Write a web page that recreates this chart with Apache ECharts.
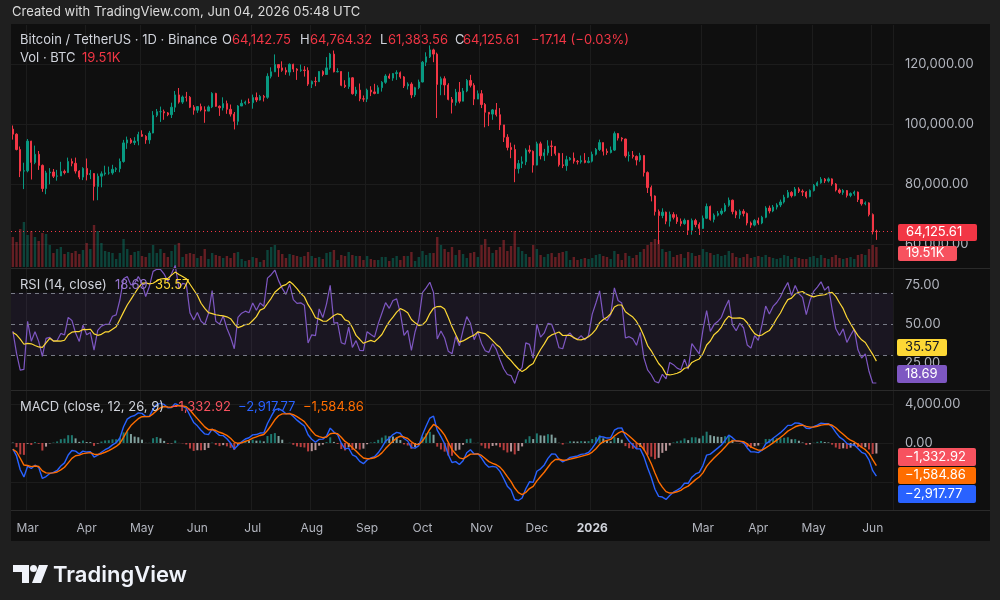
<!DOCTYPE html>
<html lang="en">
<head>
    <meta charset="UTF-8">
    <title>BTCUSDT 1D</title>
    <script src="https://cdn.jsdelivr.net/npm/echarts@6.0.0/dist/echarts.min.js"></script>
    <style>
        html, body { margin: 0; padding: 0; background: #1f1f1f; }
        #main { width: 1000px; height: 600px; }
    </style>
</head>
<body>
<div id="main"></div>
<script type="text/javascript">
// two-day bars from 2025-02-21, prices in thousand USDT, volume in K BTC
var startDate = '2025-02-21';
// closes before the window, only used to warm up RSI / MACD
var preCloses = [94.2, 93.4, 96.9, 102.1, 95.0, 94.5, 100.5, 104.4, 102.0, 104.8, 102.6, 101.3,
    104.7, 100.6, 101.4, 96.6, 96.5, 96.5, 95.8, 96.6, 97.5, 95.8, 98.3];
var closes = [
    96.6, 91.5, 84.3, 84.4, 94.3, 87.2, 89.9, 86.2, 78.5, 83.7,
    84.0, 82.6, 82.7, 84.2, 83.8, 87.5, 86.9, 84.3, 82.3, 85.2,
    83.1, 83.5, 79.2, 82.6, 83.4, 83.7, 83.7, 84.9, 85.1, 87.5,
    93.7, 94.7, 93.8, 94.3, 96.5, 95.9, 94.7, 97.0, 102.9, 104.1,
    104.1, 103.7, 103.1, 105.6, 109.7, 107.3, 109.0, 108.9, 105.6, 104.6,
    105.8, 104.7, 104.3, 105.7, 110.2, 105.9, 105.4, 106.8, 104.9, 103.3,
    100.9, 106.0, 106.9, 107.3, 107.1, 108.8, 108.0, 109.2, 108.9, 115.9,
    117.4, 119.8, 118.7, 117.9, 117.3, 119.9, 118.3, 117.9, 118.0, 117.8,
    113.3, 114.2, 114.1, 117.5, 116.5, 118.7, 123.3, 117.4, 117.5, 112.9,
    112.5, 115.4, 110.1, 111.3, 108.4, 108.3, 111.3, 110.7, 110.2, 112.1,
    113.9, 116.0, 115.3, 116.8, 117.1, 115.7, 112.7, 113.3, 109.7, 112.1,
    114.0, 120.6, 122.4, 124.7, 123.3, 113.2, 115.1, 113.0, 108.2, 107.2,
    110.6, 107.6, 111.0, 114.5, 112.9, 108.3, 110.1, 106.5, 103.9, 103.3,
    104.7, 103.1, 99.7, 95.6, 92.2, 91.5, 85.1, 86.8, 87.4, 91.3,
    90.9, 86.3, 93.4, 89.4, 90.4, 92.7, 92.5, 90.2, 86.4, 86.1,
    88.1, 88.6, 87.6, 87.4, 87.8, 87.2, 87.6, 89.9, 91.5, 93.8,
    90.9, 90.5, 91.3, 96.8, 95.3, 95.0, 89.4, 89.6, 89.2, 88.0,
    89.5, 83.8, 78.8, 76.0, 70.8, 69.5, 70.6, 67.6, 69.8, 68.9,
    67.5, 66.8, 67.9, 64.6, 67.8, 66.5, 65.2, 68.6, 72.5, 68.2,
    69.6, 70.2, 71.0, 72.9, 74.6, 70.8, 69.7, 70.9, 70.2, 67.0,
    66.3, 67.8, 67.0, 68.9, 72.0, 71.0, 72.3, 73.0, 74.0, 75.6,
    77.2, 76.1, 78.3, 77.6, 77.3, 75.8, 77.8, 79.5, 80.4, 81.6,
    81.0, 81.7, 80.0, 78.0, 77.2, 77.8, 76.2, 76.8, 77.3, 74.8,
    73.4, 73.7, 69.8, 64.143, 64.126
];
var highs = [
    99.5, 96.9, 92.5, 87.1, 95.0, 94.4, 92.8, 91.0, 86.5, 84.4,
    85.3, 85.0, 84.7, 87.4, 84.8, 88.8, 88.5, 88.8, 84.6, 85.6,
    88.5, 84.7, 83.6, 83.5, 84.2, 86.1, 85.8, 86.4, 85.6, 88.5,
    94.7, 95.8, 95.3, 95.6, 97.4, 97.9, 96.3, 97.7, 104.3, 105.0,
    105.8, 104.8, 104.0, 107.1, 111.0, 112.0, 109.5, 110.7, 109.3, 106.3,
    105.9, 106.8, 105.9, 106.2, 110.6, 110.4, 106.2, 108.9, 107.8, 106.5,
    104.0, 106.3, 108.1, 107.8, 108.5, 109.8, 110.5, 109.7, 109.7, 116.9,
    118.9, 123.2, 119.9, 120.9, 118.9, 120.2, 120.1, 118.6, 119.8, 119.3,
    118.9, 114.5, 115.7, 117.6, 117.9, 122.3, 123.7, 124.5, 118.6, 117.6,
    114.6, 117.4, 115.6, 112.4, 113.5, 109.5, 111.8, 112.6, 113.4, 112.9,
    114.3, 116.6, 116.8, 117.0, 117.9, 117.5, 116.0, 113.9, 113.9, 112.4,
    114.8, 121.0, 123.9, 126.2, 125.1, 123.8, 115.8, 115.9, 113.6, 109.0,
    111.7, 114.0, 112.0, 115.0, 116.4, 113.6, 111.2, 111.3, 107.0, 104.0,
    105.0, 107.0, 105.3, 99.0, 96.6, 93.8, 93.1, 88.0, 89.2, 91.9,
    92.9, 91.2, 94.1, 94.1, 91.7, 94.6, 94.5, 92.7, 90.4, 90.3,
    89.4, 89.0, 90.5, 88.0, 89.5, 90.3, 89.0, 90.8, 92.0, 94.8,
    93.8, 91.8, 92.5, 97.5, 97.0, 95.6, 95.1, 90.8, 91.0, 89.5,
    90.4, 89.2, 84.2, 79.5, 76.2, 71.5, 71.9, 70.8, 70.8, 70.6,
    69.9, 68.5, 68.5, 68.0, 68.5, 68.4, 67.2, 69.5, 73.5, 72.8,
    70.2, 71.0, 71.9, 73.6, 75.5, 74.8, 71.2, 71.5, 71.6, 70.5,
    67.5, 68.3, 68.8, 69.4, 72.6, 72.8, 73.0, 73.6, 74.8, 76.4,
    78.0, 77.6, 79.0, 78.9, 78.2, 77.6, 78.2, 80.0, 80.9, 82.3,
    82.0, 82.2, 81.9, 80.3, 78.5, 78.3, 78.0, 77.2, 77.8, 77.5,
    74.9, 74.2, 73.9, 70.2, 64.764
];
var lows = [
    94.8, 91.2, 82.3, 78.3, 83.9, 81.5, 86.6, 84.7, 77.4, 76.6,
    79.9, 82.0, 81.1, 82.7, 83.2, 83.7, 85.9, 83.5, 81.6, 81.3,
    81.2, 81.6, 74.5, 74.6, 78.9, 82.8, 83.1, 83.1, 84.0, 83.9,
    87.1, 91.7, 93.4, 93.0, 92.9, 95.7, 93.4, 93.4, 96.9, 102.3,
    100.7, 101.4, 102.6, 102.0, 104.0, 106.8, 106.7, 107.5, 105.3, 103.1,
    103.7, 104.2, 100.4, 104.5, 105.3, 105.7, 102.7, 104.5, 103.4, 102.5,
    98.2, 99.6, 106.4, 106.4, 106.8, 105.1, 107.3, 107.8, 107.5, 108.4,
    115.2, 117.3, 115.7, 117.4, 116.4, 116.1, 117.3, 114.7, 117.4, 115.8,
    112.7, 112.0, 112.6, 114.3, 115.9, 116.6, 118.1, 117.2, 117.2, 112.6,
    112.0, 111.7, 109.8, 109.3, 107.6, 107.4, 107.3, 109.3, 109.9, 110.0,
    110.8, 113.4, 115.0, 114.4, 114.7, 115.1, 112.0, 111.5, 108.6, 109.0,
    111.6, 113.9, 119.3, 122.0, 120.6, 102.0, 109.6, 109.6, 107.9, 103.5,
    106.1, 106.9, 107.6, 110.6, 112.2, 106.3, 108.6, 105.3, 98.9, 99.3,
    101.4, 102.5, 98.0, 94.0, 91.2, 88.6, 80.6, 83.5, 85.3, 86.3,
    90.2, 83.8, 86.2, 88.2, 87.7, 89.5, 89.3, 89.5, 85.8, 85.3,
    84.4, 87.8, 86.8, 86.5, 86.8, 86.9, 86.9, 87.2, 89.5, 91.0,
    89.5, 89.7, 90.2, 91.0, 94.5, 94.2, 88.8, 87.5, 88.5, 86.2,
    87.4, 82.5, 77.0, 74.2, 69.5, 60.0, 68.6, 66.6, 65.8, 68.2,
    66.7, 65.9, 66.4, 63.0, 63.1, 65.6, 63.0, 65.0, 68.3, 67.8,
    67.2, 69.2, 69.6, 70.6, 72.4, 69.9, 68.6, 68.4, 69.2, 66.2,
    65.4, 65.9, 66.4, 66.6, 68.6, 70.2, 70.6, 71.5, 72.3, 73.5,
    75.3, 75.5, 75.9, 77.0, 76.0, 75.2, 75.6, 77.5, 79.2, 80.1,
    80.3, 80.5, 79.4, 77.5, 76.7, 76.4, 75.5, 75.6, 76.1, 74.0,
    72.8, 72.9, 69.2, 63.2, 61.384
];
var volumes = [
    30, 25, 38, 45, 32, 36, 30, 26, 34, 33,
    22, 14, 18, 20, 13, 15, 14, 16, 13, 17,
    24, 18, 42, 36, 24, 16, 15, 14, 8, 14,
    28, 18, 12, 15, 16, 11, 10, 14, 22, 14,
    18, 14, 10, 16, 22, 24, 10, 13, 14, 13,
    9, 11, 18, 8, 14, 12, 11, 9, 11, 9,
    14, 15, 8, 6, 7, 10, 9, 5, 7, 17,
    20, 22, 17, 13, 9, 13, 12, 11, 10, 11,
    15, 11, 9, 10, 8, 14, 15, 17, 7, 12,
    11, 15, 12, 11, 11, 7, 11, 8, 7, 7,
    10, 10, 6, 9, 11, 7, 11, 11, 15, 6,
    10, 16, 12, 14, 14, 30, 22, 18, 15, 20,
    12, 17, 13, 9, 14, 15, 10, 22, 28, 20,
    14, 17, 20, 27, 16, 21, 36, 20, 16, 13,
    10, 22, 18, 12, 10, 13, 14, 10, 14, 15,
    16, 7, 10, 7, 8, 9, 8, 9, 12, 13,
    11, 10, 8, 16, 13, 7, 14, 11, 9, 12,
    15, 18, 22, 25, 28, 27, 18, 15, 16, 10,
    12, 13, 9, 15, 14, 11, 12, 18, 15, 14,
    12, 13, 11, 12, 16, 14, 10, 9, 10, 13,
    9, 10, 11, 10, 12, 10, 9, 8, 9, 12,
    11, 8, 10, 9, 8, 8, 10, 11, 9, 12,
    9, 8, 10, 12, 9, 8, 9, 10, 8, 12,
    13, 12, 18, 22, 20
];
// time axis labels (TradingView skipped Feb 2026)
var monthTicks = ['2025-03', '2025-04', '2025-05', '2025-06', '2025-07', '2025-08', '2025-09', '2025-10',
    '2025-11', '2025-12', '2026-01', '2026-03', '2026-04', '2026-05', '2026-06'];
var monthText = ['Mar', 'Apr', 'May', 'Jun', 'Jul', 'Aug', 'Sep', 'Oct', 'Nov', 'Dec', '2026', 'Mar', 'Apr', 'May', 'Jun'];
var priceTicks = [60000, 80000, 100000, 120000];
var macdTicks = [4000, 0];

// indicator lengths in two-day bars (14 / 12-26-9 days)
var rsiLen = 7, rsiMaLen = 7, fastLen = 6, slowLen = 13, sigLen = 4.5;
var padBars = 4; // empty space right of the last bar

var GREEN = '#089981', RED = '#f23645', GRID = '#1c1c1c', AXIS_TXT = '#b2b5be';
var FONT = 'Inter';

function addDays(s, n) {
    var d = new Date(s + 'T00:00:00Z');
    d.setUTCDate(d.getUTCDate() + n);
    return d.toISOString().slice(0, 10);
}
function fmt(v, dec) {
    return v.toLocaleString('en-US', {minimumFractionDigits: dec, maximumFractionDigits: dec});
}
function ema(src, n) {
    var k = 2 / (n + 1), out = [src[0]];
    for (var i = 1; i < src.length; i++) out.push(src[i] * k + out[i - 1] * (1 - k));
    return out;
}
function sma(src, n) {
    var out = [];
    for (var i = 0; i < src.length; i++) {
        var s = 0, c = 0;
        for (var j = Math.max(0, i - n + 1); j <= i; j++) { s += src[j]; c++; }
        out.push(s / c);
    }
    return out;
}
function rsi(src, n) {
    var out = [50], up = 0, dn = 0;
    for (var i = 1; i < src.length; i++) {
        var ch = src[i] - src[i - 1];
        var a = i < n ? 1 / i : 1 / n;
        up += a * (Math.max(ch, 0) - up);
        dn += a * (Math.max(-ch, 0) - dn);
        out.push(dn === 0 ? 100 : 100 - 100 / (1 + up / dn));
    }
    return out;
}

var dates = [];
for (var i = 0; i < closes.length + padBars; i++) dates.push(addDays(startDate, i * 2));

var candles = [], volData = [];
for (i = 0; i < closes.length; i++) {
    var o = (i ? closes[i - 1] : preCloses[preCloses.length - 1]) * 1000;
    var c = closes[i] * 1000;
    var h = Math.max(highs[i] * 1000, o, c), l = Math.min(lows[i] * 1000, o, c);
    candles.push([o, c, l, h]);
    volData.push({value: volumes[i], itemStyle: {color: c >= o ? 'rgba(8,153,129,0.38)' : 'rgba(242,54,69,0.38)'}});
}

// indicators on the whole close history, then cut to the window
var allCloses = preCloses.concat(closes).map(function (v) { return v * 1000; });
var cut = preCloses.length;
var rsiAll = rsi(allCloses, rsiLen);
var rsiLine = rsiAll.slice(cut);
var rsiMa = sma(rsiAll, rsiMaLen).slice(cut);
var fastE = ema(allCloses, fastLen), slowE = ema(allCloses, slowLen);
var macdAll = fastE.map(function (v, k) { return v - slowE[k]; });
var sigAll = ema(macdAll, sigLen);
var macdLine = macdAll.slice(cut), sigLine = sigAll.slice(cut);
var histData = [];
for (i = 0; i < macdLine.length; i++) {
    var hv = macdLine[i] - sigLine[i];
    var pv = macdAll[cut + i - 1] - sigAll[cut + i - 1];
    var col = hv >= 0 ? (hv >= pv ? '#26a69a' : '#b2dfdb') : (hv < pv ? '#ff5252' : '#ffcdd2');
    histData.push({value: hv, itemStyle: {color: col, opacity: 0.7}});
}

function monthIndex(idx) {
    var key = dates[idx].slice(0, 7);
    if (idx > 0 && dates[idx - 1].slice(0, 7) === key) return -1;
    return monthTicks.indexOf(key);
}

var gridL = 11, gridR = 107;
function xAx(i, extra) {
    var ax = {
        type: 'category', gridIndex: i, data: dates, boundaryGap: true,
        axisLine: {show: false}, axisTick: {show: false},
        axisLabel: {show: false}, splitLine: {show: false}
    };
    for (var k in extra) ax[k] = extra[k];
    return ax;
}

// text / badge overlay
var g = [];
function rect(x, y, w, h, fill, r) {
    g.push({type: 'rect', z: 100, shape: {x: x, y: y, width: w, height: h, r: r || 0}, style: {fill: fill}});
}
function text(x, y, s, fill, size, weight) {
    g.push({type: 'text', z: 101, x: x, y: y, style: {text: s, fill: fill, fontSize: size || 13,
        fontFamily: FONT, fontWeight: weight || 'normal', verticalAlign: 'middle'}});
}
function line(x1, y1, x2, y2, stroke) {
    g.push({type: 'line', z: 100, shape: {x1: x1, y1: y1, x2: x2, y2: y2}, style: {stroke: stroke, lineWidth: 1}});
}
// frame round the chart panel
rect(0, 0, 1000, 24, '#1f1f1f');
rect(0, 541, 1000, 59, '#1f1f1f');
rect(0, 0, 11, 600, '#1f1f1f');
rect(990, 0, 10, 600, '#1f1f1f');
line(11, 268.5, 990, 268.5, '#2a2a2a');
line(11, 390.5, 990, 390.5, '#2a2a2a');
line(11, 510.5, 990, 510.5, '#2a2a2a');
text(12, 12, 'Created with TradingView.com, Jun 04, 2026 05:48 UTC', '#dcdcdc', 13);
// legends
var LG = '#d1d4dc';
text(20, 40, 'Bitcoin / TetherUS · 1D · Binance', LG);
text(222, 40, 'O', LG); text(232, 40, '64,142.75', RED);
text(300, 40, 'H', LG); text(310, 40, '64,764.32', RED);
text(380, 40, 'L', LG); text(388, 40, '61,383.56', RED);
text(455, 40, 'C', LG); text(463, 40, '64,125.61', RED);
text(531, 40, '\u221217.14 (\u22120.03%)', RED);
text(20, 58, 'Vol · BTC', LG); text(82, 58, '19.51K', RED);
text(20, 285, 'RSI (14, close)', LG); text(115, 285, '18.69', '#9575cd'); text(155, 285, '35.57', '#fdd835');
text(20, 407, 'MACD (close, 12, 26, 9)', LG); text(170, 407, '\u22121,332.92', '#f7525f');
text(238, 407, '\u22122,917.77', '#2962ff'); text(303, 407, '\u22121,584.86', '#ff6d00');
// last value badges on the right scales
rect(898, 224, 79, 17, RED, 2); text(906, 232.5, '64,125.61', '#ffffff');
rect(898, 246, 59, 15, '#f7525f', 2); text(906, 253.5, '19.51K', '#ffffff');
rect(897, 339, 50, 17, '#fdd835', 2); text(905, 347.5, '35.57', '#131722');
rect(897, 365, 50, 18, '#7e57c2', 2); text(905, 374, '18.69', '#ffffff');
rect(898, 448, 78, 18, '#f7525f', 2); text(905, 457, '\u22121,332.92', '#ffffff');
rect(898, 467, 78, 17, '#ff6d00', 2); text(905, 475.5, '\u22121,584.86', '#ffffff');
rect(898, 485, 78, 18, '#2962ff', 2); text(905, 494, '\u22122,917.77', '#ffffff');
// TradingView logo
g.push({type: 'polygon', z: 101, shape: {points: [[13, 565], [29, 565], [29, 583], [22, 583], [22, 572], [13, 572]]}, style: {fill: '#f0f3fa'}});
g.push({type: 'circle', z: 101, shape: {cx: 33.5, cy: 568.5, r: 3.5}, style: {fill: '#f0f3fa'}});
g.push({type: 'polygon', z: 101, shape: {points: [[39, 565], [48, 565], [41, 583], [32, 583]]}, style: {fill: '#f0f3fa'}});
text(53, 575, 'TradingView', '#f0f3fa', 22, 600);

var chart = echarts.init(document.getElementById('main'));
var option = {
    backgroundColor: '#0f0f0f',
    animation: false,
    textStyle: {fontFamily: FONT},
    grid: [
        {left: gridL, right: gridR, top: 34, height: 240},   // price 130k .. 50k
        {left: gridL, right: gridR, top: 25, height: 242},   // volume
        {left: gridL, right: gridR, top: 285, height: 117},  // rsi 75 .. 0
        {left: gridL, right: gridR, top: 404, height: 117},  // macd 4000 .. -8000
        {left: gridL, right: gridR, top: 25, height: 485}    // month lines + time labels
    ],
    xAxis: [
        xAx(0), xAx(1), xAx(2), xAx(3),
        xAx(4, {
            axisLabel: {
                show: true, margin: 12, color: AXIS_TXT, fontSize: 12,
                interval: function (idx) { return monthIndex(idx) >= 0; },
                formatter: function (v, idx) {
                    var m = monthIndex(idx);
                    if (m < 0) return '';
                    return monthText[m] === '2026' ? '{b|2026}' : monthText[m];
                },
                rich: {b: {fontWeight: 'bold', color: '#d1d4dc', fontSize: 12}}
            },
            splitLine: {
                show: true,
                interval: function (idx) { return monthIndex(idx) >= 0; },
                lineStyle: {color: GRID, width: 1}
            }
        })
    ],
    yAxis: [
        {
            gridIndex: 0, type: 'value', position: 'right', min: 50000, max: 130000, interval: 10000,
            axisLine: {show: false}, axisTick: {show: false},
            axisLabel: {margin: 12, color: AXIS_TXT, fontSize: 13, formatter: function (v) {
                return priceTicks.indexOf(v) >= 0 ? fmt(v, 2) : '';
            }},
            splitLine: {lineStyle: {color: ['rgba(0,0,0,0)', GRID]}}
        },
        {gridIndex: 1, type: 'value', min: 0, max: 242, show: false},
        {
            gridIndex: 2, type: 'value', position: 'right', min: 0, max: 75, interval: 25,
            axisLine: {show: false}, axisTick: {show: false}, splitLine: {show: false},
            axisLabel: {margin: 12, color: AXIS_TXT, fontSize: 13, formatter: function (v) {
                return v > 0 ? fmt(v, 2) : '';
            }}
        },
        {
            gridIndex: 3, type: 'value', position: 'right', min: -8000, max: 4000, interval: 4000,
            axisLine: {show: false}, axisTick: {show: false},
            axisLabel: {margin: 12, color: AXIS_TXT, fontSize: 13, formatter: function (v) {
                return macdTicks.indexOf(v) >= 0 ? fmt(v, 2) : '';
            }},
            splitLine: {lineStyle: {color: ['rgba(0,0,0,0)', GRID, GRID, GRID]}}
        },
        {gridIndex: 4, type: 'value', show: false}
    ],
    series: [
        {
            name: 'Vol', type: 'bar', xAxisIndex: 1, yAxisIndex: 1, data: volData,
            barWidth: 2.4, z: 1, silent: true
        },
        {
            name: 'BTCUSDT', type: 'candlestick', xAxisIndex: 0, yAxisIndex: 0, data: candles,
            barWidth: 1.8, z: 3,
            itemStyle: {color: GREEN, color0: RED, borderColor: GREEN, borderColor0: RED, borderWidth: 1},
            markLine: {
                silent: true, symbol: 'none', label: {show: false},
                lineStyle: {color: RED, type: [1, 3], width: 1},
                data: [{yAxis: closes[closes.length - 1] * 1000}]
            }
        },
        {
            name: 'RSI', type: 'line', xAxisIndex: 2, yAxisIndex: 2, data: rsiLine, clip: false,
            symbol: 'none', lineStyle: {color: '#7e57c2', width: 1.2}, z: 3,
            markArea: {silent: true, itemStyle: {color: 'rgba(126,87,194,0.1)'},
                data: [[{yAxis: 70}, {yAxis: 30}]]},
            markLine: {silent: true, symbol: 'none', label: {show: false},
                lineStyle: {color: '#787b86', type: [4, 4], width: 1},
                data: [{yAxis: 70}, {yAxis: 50}, {yAxis: 30}]}
        },
        {
            name: 'RSI MA', type: 'line', xAxisIndex: 2, yAxisIndex: 2, data: rsiMa, clip: false,
            symbol: 'none', lineStyle: {color: '#fdd835', width: 1.2}, z: 4
        },
        {
            name: 'Histogram', type: 'bar', xAxisIndex: 3, yAxisIndex: 3, data: histData,
            barWidth: 2, silent: true
        },
        {
            name: 'MACD', type: 'line', xAxisIndex: 3, yAxisIndex: 3, data: macdLine,
            symbol: 'none', lineStyle: {color: '#2962ff', width: 1.4}, z: 3
        },
        {
            name: 'Signal', type: 'line', xAxisIndex: 3, yAxisIndex: 3, data: sigLine,
            symbol: 'none', lineStyle: {color: '#ff6d00', width: 1.4}, z: 4
        }
    ],
    graphic: g
};
chart.setOption(option);
window.addEventListener('resize', function () {
    chart.resize();
});
</script>
</body>
</html>
